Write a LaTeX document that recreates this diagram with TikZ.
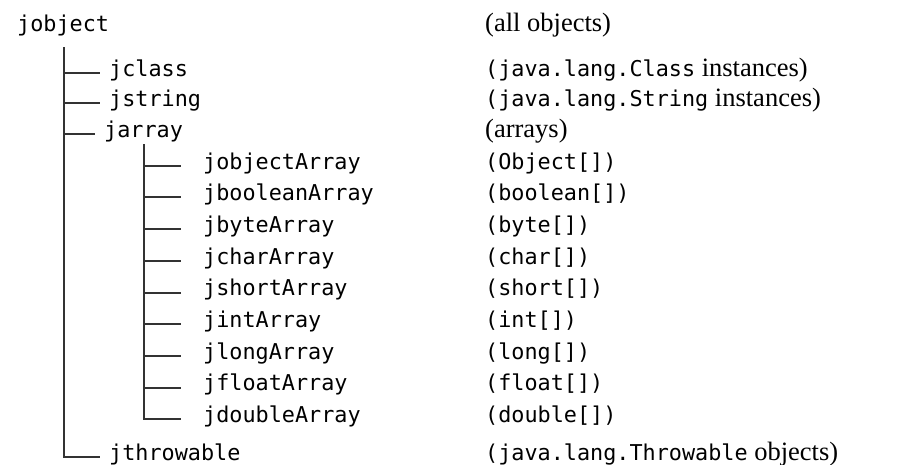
\documentclass[tikz,border=0pt]{standalone}
\usepackage{fontspec}
\setmainfont{Liberation Serif}
\setmonofont{DejaVu Sans Mono}
\newcommand\cd[1]{{\fontsize{21.8}{24}\ttfamily #1}}
\begin{document}
\begin{tikzpicture}[x=1pt,y=-1pt,
  code/.style={anchor=base west,inner sep=0pt,font=\fontsize{21.8}{24}\ttfamily},
  note/.style={anchor=base west,inner sep=0pt,font=\fontsize{26.5}{30}\selectfont},
  branch/.style={line width=2pt,draw=black!80,line cap=rect}]
\useasboundingbox (0,0) rectangle (898,464);

% root of the hierarchy
\node[code] (root) at (17,31) {jobject};
\node[note] (rootd) at (485,31) {(all objects)};

% first level
\node[code] (cls) at (109,76)  {jclass};
\node[code] (str) at (109,106) {jstring};
\node[code] (arr) at (104,137) {jarray};
\node[code] (thr) at (109,460) {jthrowable};

\node[note] (clsd) at (485,76)  {\cd{(java.lang.Class} instances)};
\node[note] (strd) at (485,106) {\cd{(java.lang.String} instances)};
\node[note] (arrd) at (485,137) {(arrays)};
\node[note] (thrd) at (485,460) {\cd{(java.lang.Throwable} objects)};

% array types
\foreach \n/\t/\d [count=\i from 0] in {
  oa/jobjectArray/Object,
  ba/jbooleanArray/boolean,
  ya/jbyteArray/byte,
  ca/jcharArray/char,
  sa/jshortArray/short,
  ia/jintArray/int,
  la/jlongArray/long,
  fa/jfloatArray/float,
  da/jdoubleArray/double}{
  \node[code] (\n) at (203,169+31.7*\i) {\t};
  \node[code] (\n d) at (485,169+31.7*\i) {(\d[])};
}

% trunk lines
\coordinate (top) at (64,48);
\coordinate (subtop) at (144,145);

\foreach \c in {cls,str,arr}{
  \coordinate (e) at ([xshift=-10pt,yshift=1pt]\c.mid west);
  \draw[branch] (top |- e) -- (e);
}
\coordinate (e) at ([xshift=-10pt,yshift=1pt]thr.mid west);
\draw[branch] (top) |- (e);

\foreach \c in {oa,ba,ya,ca,sa,ia,la,fa}{
  \coordinate (e) at ([xshift=-23pt,yshift=1pt]\c.mid west);
  \draw[branch] (subtop |- e) -- (e);
}
\coordinate (e) at ([xshift=-23pt,yshift=1pt]da.mid west);
\draw[branch] (subtop) |- (e);
\end{tikzpicture}
\end{document}
